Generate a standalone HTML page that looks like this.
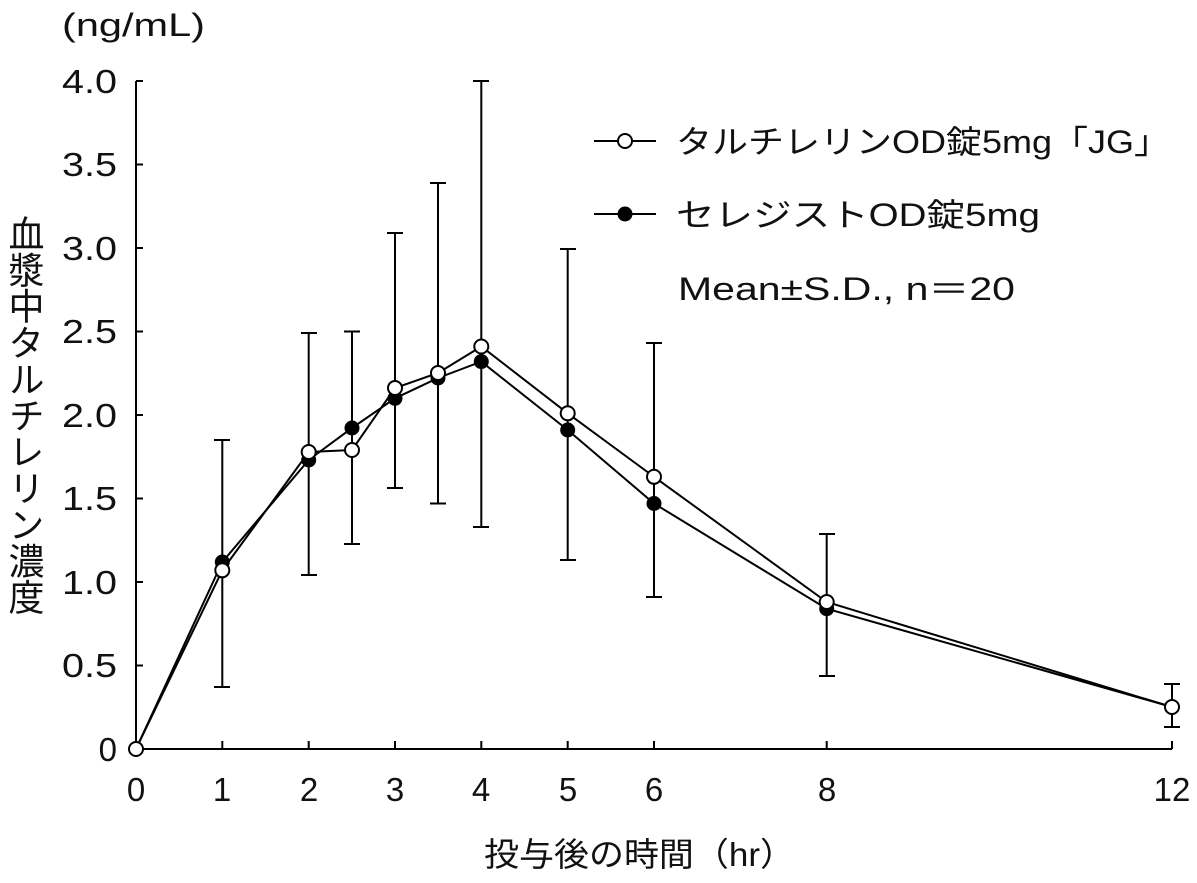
<!DOCTYPE html>
<html><head><meta charset="utf-8"><style>
html,body{margin:0;padding:0;background:#fff;}
svg text{font-family:"Liberation Sans","Noto Sans CJK JP",sans-serif;fill:#111;}
</style></head><body>
<svg width="1197" height="878" viewBox="0 0 1197 878" xmlns="http://www.w3.org/2000/svg">
<g stroke="#000" stroke-width="2" fill="none">
<line x1="136" y1="81" x2="136" y2="749"/>
<line x1="136" y1="749" x2="1172" y2="749"/>
<path d="M136 81h7M136 164.5h7M136 248h7M136 331.5h7M136 415h7M136 498.5h7M136 582h7M136 665.5h7"/>
<path d="M222.3 749v-8M308.7 749v-8M395 749v-8M481.3 749v-8M567.7 749v-8M654 749v-8M826.7 749v-8M1172 749v-8"/>
</g>
<g font-size="33" text-anchor="end">
<text x="117" y="93" textLength="55" lengthAdjust="spacingAndGlyphs">4.0</text>
<text x="117" y="176" textLength="55" lengthAdjust="spacingAndGlyphs">3.5</text>
<text x="117" y="260" textLength="55" lengthAdjust="spacingAndGlyphs">3.0</text>
<text x="117" y="343" textLength="55" lengthAdjust="spacingAndGlyphs">2.5</text>
<text x="117" y="427" textLength="55" lengthAdjust="spacingAndGlyphs">2.0</text>
<text x="117" y="510" textLength="55" lengthAdjust="spacingAndGlyphs">1.5</text>
<text x="117" y="594" textLength="55" lengthAdjust="spacingAndGlyphs">1.0</text>
<text x="117" y="677" textLength="55" lengthAdjust="spacingAndGlyphs">0.5</text>
<text x="117" y="761">0</text>
</g>
<g font-size="33" text-anchor="middle">
<text x="136" y="801">0</text><text x="222" y="801">1</text><text x="309" y="801">2</text><text x="395" y="801">3</text>
<text x="481" y="801">4</text><text x="568" y="801">5</text><text x="654" y="801">6</text><text x="827" y="801">8</text><text x="1172" y="801">12</text>
</g>
<text x="62" y="36" font-size="32" textLength="143" lengthAdjust="spacingAndGlyphs">(ng/mL)</text>
<text x="484" y="866" font-size="33" textLength="311" lengthAdjust="spacingAndGlyphs">投与後の時間（hr）</text>
<text x="24" y="215" font-size="36" style="writing-mode:vertical-rl" textLength="400" lengthAdjust="spacingAndGlyphs">血漿中タルチレリン濃度</text>
<g stroke="#000" stroke-width="2" fill="none">
<path d="M222.3 687v-247M214 687h16M214 440h16"/>
<path d="M308.7 575v-242M301 575h16M301 333h16"/>
<path d="M352 543.6v-212M344 544h16M344 331.5h16"/>
<path d="M395 488v-256M387 488h16M387 233h16"/>
<path d="M438 503.5v-320M430 503.5h16M430 183h16"/>
<path d="M481.3 527v-446M473 527h16M473 81h16"/>
<path d="M567.7 560v-311M560 560h16M560 249h16"/>
<path d="M654 597v-254M646 597h16M646 343h16"/>
<path d="M826.7 676v-141M819 676h16M819 534h16"/>
<path d="M1172 727v-43M1164 727h16M1164 684h16"/>
</g>
<polyline fill="none" stroke="#000" stroke-width="2" points="136,749 222.3,562 308.7,460 352,428 395,398.3 438,378 481.3,361.6 567.7,430 654,503.5 826.7,608.7 1172,707"/>
<g fill="#000">
<circle cx="222.3" cy="562" r="7.5"/><circle cx="308.7" cy="460" r="7.5"/><circle cx="352" cy="428" r="7.5"/>
<circle cx="395" cy="398.3" r="7.5"/><circle cx="438" cy="378" r="7.5"/><circle cx="481.3" cy="361.6" r="7.5"/>
<circle cx="567.7" cy="430" r="7.5"/><circle cx="654" cy="503.5" r="7.5"/><circle cx="826.7" cy="608.7" r="7.5"/><circle cx="1172" cy="707" r="7.5"/>
</g>
<polyline fill="none" stroke="#000" stroke-width="2" points="136,749 222.3,570.3 308.7,452 352,450 395,388 438,373 481.3,346.5 567.7,413.3 654,476.8 826.7,602 1172,707"/>
<g fill="#fff" stroke="#000" stroke-width="2">
<circle cx="136" cy="749" r="7"/>
<circle cx="222.3" cy="570.3" r="7"/><circle cx="308.7" cy="452" r="7"/><circle cx="352" cy="450" r="7"/>
<circle cx="395" cy="388" r="7"/><circle cx="438" cy="373" r="7"/><circle cx="481.3" cy="346.5" r="7"/>
<circle cx="567.7" cy="413.3" r="7"/><circle cx="654" cy="476.8" r="7"/><circle cx="826.7" cy="602" r="7"/><circle cx="1172" cy="707" r="7"/>
</g>
<line x1="594" y1="141" x2="656" y2="141" stroke="#000" stroke-width="2"/>
<circle cx="625" cy="141" r="7" fill="#fff" stroke="#000" stroke-width="2"/>
<line x1="594" y1="214" x2="656" y2="214" stroke="#000" stroke-width="2"/>
<circle cx="625" cy="214" r="7.5" fill="#000"/>
<g font-size="32">
<text x="676" y="153" textLength="494" lengthAdjust="spacingAndGlyphs">タルチレリンOD錠5mg「JG」</text>
<text x="676" y="226" textLength="364" lengthAdjust="spacingAndGlyphs">セレジストOD錠5mg</text>
<text x="678" y="300" textLength="337" lengthAdjust="spacingAndGlyphs">Mean±S.D., n＝20</text>
</g>
</svg>
</body></html>
